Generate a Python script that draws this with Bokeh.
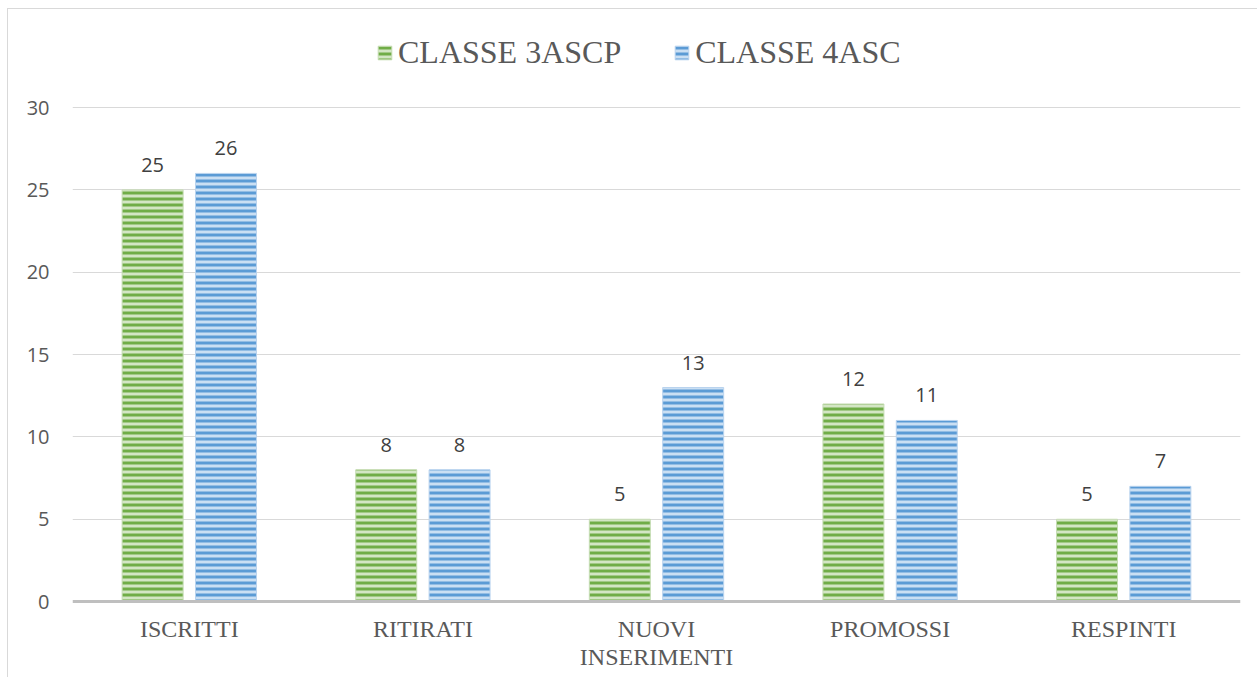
from bokeh.plotting import figure
from bokeh.models import ColumnDataSource, FactorRange, Range1d, FixedTicker, Legend, LegendItem, Span
from bokeh.transform import dodge
from bokeh.core.properties import value
from bokeh.embed import file_html
from bokeh.resources import INLINE

categories = ["ISCRITTI", "RITIRATI", "NUOVI\nINSERIMENTI", "PROMOSSI", "RESPINTI"]
classe_3ascp = [25, 8, 5, 12, 5]
classe_4asc = [26, 8, 13, 11, 7]
series_names = ["CLASSE 3ASCP", "CLASSE 4ASC"]
y_ticks = [0, 5, 10, 15, 20, 25, 30]

src = ColumnDataSource(data=dict(
    cat=categories,
    a=classe_3ascp,
    b=classe_4asc,
    a_lbl=[str(v) for v in classe_3ascp],
    b_lbl=[str(v) for v in classe_4asc],
    zero=[0] * len(categories),
    line1=[c.split("\n")[0] for c in categories],
    line2=[c.split("\n")[1] if "\n" in c else "" for c in categories],
))

p = figure(
    width=1250, height=669,
    x_range=FactorRange(*categories, range_padding=0),
    y_range=Range1d(-4.67, 34.80),
    output_backend="svg", toolbar_location=None,
    min_border_left=64, min_border_right=18, min_border_top=19, min_border_bottom=0,
)
p.styles = {"margin-left": "7px", "margin-top": "8px",
            "border-left": "1px solid #d9d9d9", "border-top": "1px solid #d9d9d9"}
p.outline_line_color = None
p.background_fill_color = "white"
p.border_fill_color = "white"

off = 0.157
bw = 0.261
GREEN = "#70ad47"
BLUE = "#5b9bd5"

r1 = p.vbar(x=dodge("cat", -off, range=p.x_range), top="a", width=bw, bottom=0, source=src,
            fill_color="#d3e6c4", line_color="#c5dcb2", line_width=1,
            hatch_pattern="horizontal_line", hatch_color=GREEN, hatch_scale=6, hatch_weight=3)
r2 = p.vbar(x=dodge("cat", off, range=p.x_range), top="b", width=bw, bottom=0, source=src,
            fill_color="#cadff3", line_color="#b9d3ee", line_width=1,
            hatch_pattern="horizontal_line", hatch_color=BLUE, hatch_scale=6, hatch_weight=3)

p.add_layout(Span(location=0, dimension="width", line_color="#bfbfbf", line_width=3))

for col, lbl, o in (("a", "a_lbl", -off), ("b", "b_lbl", off)):
    p.text(x=dodge("cat", o, range=p.x_range), y=col, text=lbl, source=src,
           text_align="center", text_baseline="alphabetic", y_offset=-25,
           text_font=value("Open Sans"), text_font_size="20px", text_color="#404040")

# category labels below the zero line
for lbl, yo in (("line1", 27), ("line2", 55)):
    p.text(x="cat", y="zero", text=lbl, source=src,
           text_align="center", text_baseline="alphabetic", y_offset=yo,
           text_font=value("Liberation Serif"), text_font_size="24px", text_color="#595959")

# axes
p.xaxis.visible = False
p.yaxis.ticker = FixedTicker(ticks=y_ticks)
p.yaxis.axis_line_color = None
p.yaxis.major_tick_line_color = None
p.yaxis.minor_tick_line_color = None
p.yaxis.major_label_text_font = "Open Sans"
p.yaxis.major_label_text_font_size = "20px"
p.yaxis.major_label_text_color = "#595959"
p.yaxis.major_label_standoff = 17

p.xgrid.grid_line_color = None
p.ygrid.ticker = FixedTicker(ticks=y_ticks[1:])
p.ygrid.grid_line_color = "#d9d9d9"
p.ygrid.grid_line_width = 1

legend = Legend(
    items=[LegendItem(label=series_names[0], renderers=[r1]),
           LegendItem(label=series_names[1], renderers=[r2])],
    location=(304, 607), orientation="horizontal",
    glyph_width=17, glyph_height=17, label_standoff=5, spacing=52,
    padding=0, margin=0, border_line_color=None, background_fill_alpha=0,
    label_text_font="Liberation Serif", label_text_font_size="32px", label_text_color="#595959",
)
p.add_layout(legend)

open("out.html", "w").write(file_html(p, INLINE))
